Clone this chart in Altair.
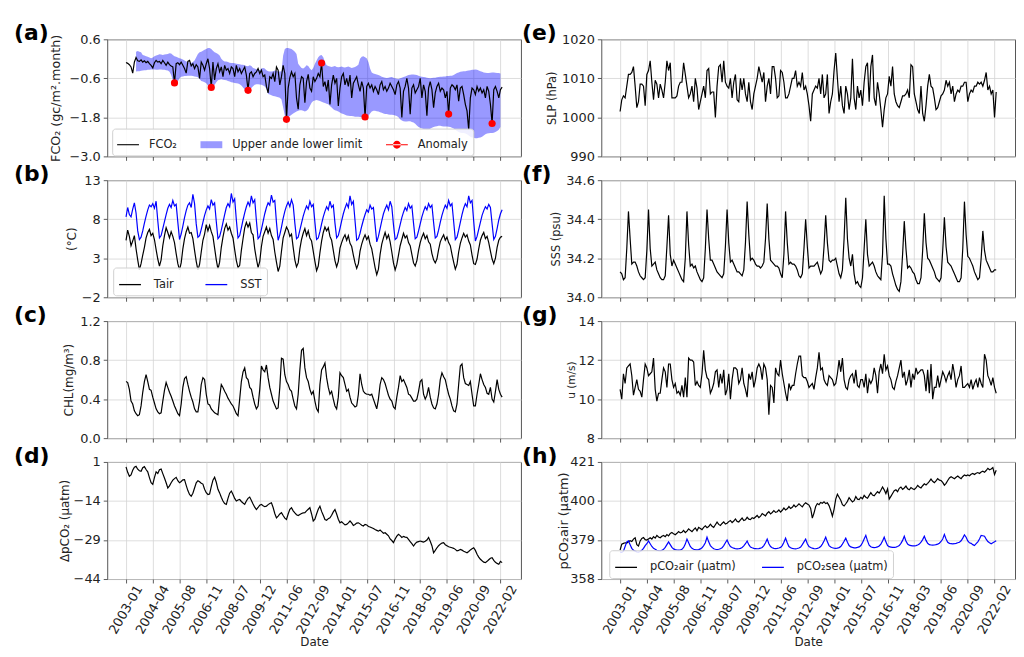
import altair as alt
import pandas as pd

DATE_LABELS = ["2003-01", "2004-04", "2005-08", "2006-11", "2008-07", "2009-12", "2011-06",
               "2012-09", "2014-01", "2015-07", "2016-11", "2018-03", "2019-06", "2020-09", "2022-02"]
TICK_IDX = list(range(0, 225, 16))
X_DOMAIN = [-11.25, 236.25]
PANEL_LABELS = ["(a)", "(b)", "(c)", "(d)", "(e)", "(f)", "(g)", "(h)"]

# (a) FCO2 monthly flux
FCO2 = [
    -0.11, -0.14, -0.18, -0.25, -0.44, -0.10, 0.04, -0.06, -0.08, -0.03, -0.10, -0.06, -0.12, -0.08, -0.15, -0.20,
    -0.28, -0.12, -0.05, -0.10, -0.08, -0.15, -0.05, -0.12, -0.20, -0.10, -0.18, -0.22, -0.25, -0.74, -0.15, -0.12,
    -0.18, -0.10, -0.20, -0.30, -0.44, -0.08, -0.05, -0.22, -0.15, -0.30, -0.18, -0.25, -0.60, -0.10, -0.20, -0.35,
    -0.15, 0.00, -0.30, -0.88, -0.10, -0.65, -0.30, -0.15, -0.40, -0.25, -0.55, -0.20, -0.35, -0.30, -0.45, -0.25,
    -0.30, -0.55, -0.20, -0.40, -0.30, -0.45, -0.35, -0.25, -0.50, -0.97, -0.45, -0.40, -0.55, -0.45, -0.40, -0.30,
    -0.45, -0.35, -0.55, -0.50, -0.85, -1.05, -0.55, -0.60, -0.45, -0.70, -0.25, -0.35, -0.80, -0.55, -0.20, -0.45,
    -1.86, -0.90, -0.58, -0.40, -0.55, -0.45, -1.20, -1.55, -0.80, -0.55, -0.60, -1.35, -0.70, -0.48, -0.90, -1.00,
    -0.55, -0.70, -0.60, -0.45, -0.55, -0.13, -0.85, -0.70, -1.00, -0.65, -1.40, -0.80, -0.50, -0.75, -0.60, -1.45,
    -0.90, -0.55, -0.45, -0.80, -0.60, -0.85, -0.50, -1.20, -0.75, -0.65, -0.55, -0.80, -1.00, -0.70, -0.90, -1.79,
    -0.85, -0.75, -0.90, -0.80, -1.00, -0.85, -0.95, -1.10, -0.80, -0.70, -0.95, -0.85, -1.00, -0.90, -0.75, -0.85,
    -0.95, -1.10, -0.80, -0.70, -0.90, -1.80, -1.00, -0.85, -0.60, -0.90, -1.70, -0.90, -0.80, -1.05, -0.95, -0.85,
    -0.60, -1.20, -0.80, -1.00, -1.75, -0.90, -0.70, -0.95, -1.50, -1.05, -0.85, -0.75, -1.00, -0.90, -0.95, -1.20,
    -1.00, -1.70, -0.90, -0.80, -0.85, -0.95, -0.80, -1.30, -0.90, -0.85, -1.10, -1.40, -1.60, -2.18, -1.20, -0.90,
    -0.95, -1.10, -0.85, -1.00, -0.90, -1.05, -0.95, -1.20, -0.85, -1.00, -1.40, -1.99, -0.95, -0.85, -1.00, -1.20,
    -0.95, -0.87,
]
ANOM_IDX = [29, 51, 73, 96, 117, 143, 193, 219]
BAND_START = 6
BAND_UPPER = [
    0.22, 0.24, 0.22, 0.20, 0.12, 0.10, 0.08, 0.06, 0.04, 0.02,
    0.04, 0.08, 0.10, 0.12, 0.14, 0.13, 0.12, 0.13, 0.14, 0.15, 0.17, 0.16, 0.12, 0.08, 0.06, 0.04,
    0.02, 0.00, -0.02, -0.05, -0.08, -0.10, -0.12, -0.13, -0.10, -0.05, 0.05, 0.15, 0.20, 0.22, 0.25, 0.28,
    0.30, 0.33, 0.33, 0.30, 0.25, 0.20, 0.18, 0.15, 0.10, 0.00, -0.05, -0.08, -0.08, -0.10, -0.12, -0.13,
    -0.13, -0.14, -0.15, -0.16, -0.17, -0.18, -0.18, -0.20, -0.22, -0.23, -0.20, -0.22, -0.28, -0.30, -0.32, -0.33,
    -0.35, -0.30, -0.28, -0.30, -0.35, -0.38, -0.39, -0.39, -0.38, -0.36, -0.37, -0.39, -0.39, -0.38, 0.10, 0.30,
    0.33, 0.33, 0.32, 0.30, 0.26, 0.22, 0.15, -0.15, -0.22, -0.28, -0.30, -0.26, -0.20, -0.22, -0.30, -0.35,
    -0.28, -0.15, -0.05, 0.05, 0.10, 0.12, 0.05, -0.10, -0.20, -0.22, -0.24, -0.25, -0.24, -0.22, -0.25, -0.26,
    -0.25, -0.24, -0.26, -0.27, -0.25, -0.24, -0.26, -0.28, -0.27, -0.25, -0.22, -0.18, 0.00, 0.06, 0.08, 0.05,
    0.02, -0.10, -0.30, -0.42, -0.45, -0.47, -0.48, -0.50, -0.52, -0.55, -0.57, -0.58, -0.59, -0.58, -0.57, -0.56,
    -0.58, -0.60, -0.61, -0.62, -0.60, -0.58, -0.56, -0.54, -0.52, -0.50, -0.49, -0.48, -0.48, -0.49, -0.50, -0.52,
    -0.54, -0.55, -0.56, -0.57, -0.58, -0.59, -0.60, -0.59, -0.58, -0.58, -0.57, -0.56, -0.55, -0.55, -0.54, -0.54,
    -0.53, -0.53, -0.52, -0.52, -0.50, -0.47, -0.44, -0.42, -0.40, -0.39, -0.38, -0.38, -0.37, -0.36, -0.35, -0.34,
    -0.34, -0.33, -0.34, -0.36, -0.38, -0.40, -0.42, -0.43, -0.44, -0.44, -0.43, -0.42, -0.42, -0.43, -0.44, -0.44,
    -0.45,
]
BAND_LOWER = [
    -0.39, -0.38, -0.38, -0.37, -0.36, -0.35, -0.35, -0.34, -0.34, -0.33,
    -0.33, -0.33, -0.34, -0.34, -0.33, -0.33, -0.34, -0.34, -0.35, -0.36, -0.40, -0.50, -0.65, -0.76, -0.74, -0.70,
    -0.60, -0.55, -0.54, -0.53, -0.53, -0.52, -0.52, -0.52, -0.53, -0.54, -0.55, -0.57, -0.62, -0.68, -0.70, -0.72,
    -0.75, -0.82, -0.86, -0.90, -0.86, -0.80, -0.72, -0.66, -0.64, -0.63, -0.64, -0.65, -0.66, -0.68, -0.70, -0.72,
    -0.73, -0.74, -0.75, -0.76, -0.78, -0.82, -0.88, -0.94, -0.98, -1.00, -0.96, -0.90, -0.84, -0.80, -0.78, -0.78,
    -0.79, -0.80, -0.82, -0.85, -0.92, -1.08, -1.10, -1.12, -1.14, -1.15, -1.17, -1.18, -1.20, -1.25, -1.50, -1.75,
    -1.88, -1.80, -1.76, -1.72, -1.68, -1.65, -1.62, -1.60, -1.58, -1.58, -1.60, -1.62, -1.60, -1.55, -1.45, -1.35,
    -1.30, -1.28, -1.27, -1.28, -1.30, -1.32, -1.34, -1.36, -1.38, -1.40, -1.45, -1.50, -1.55, -1.58, -1.60, -1.62,
    -1.65, -1.68, -1.70, -1.72, -1.74, -1.75, -1.76, -1.76, -1.77, -1.78, -1.78, -1.78, -1.79, -1.80, -1.82, -1.84,
    -1.82, -1.75, -1.68, -1.62, -1.60, -1.60, -1.61, -1.62, -1.64, -1.66, -1.68, -1.70, -1.70, -1.71, -1.72, -1.72,
    -1.73, -1.74, -1.76, -1.80, -1.86, -1.90, -1.92, -1.93, -1.93, -1.92, -1.92, -1.94, -1.96, -2.00, -2.05, -2.10,
    -2.12, -2.14, -2.16, -2.17, -2.18, -2.17, -2.15, -2.12, -2.10, -2.08, -2.07, -2.06, -2.06, -2.07, -2.08, -2.08,
    -2.08, -2.09, -2.10, -2.12, -2.14, -2.18, -2.22, -2.25, -2.27, -2.28, -2.28, -2.30, -2.32, -2.36, -2.40, -2.42,
    -2.43, -2.44, -2.44, -2.43, -2.42, -2.40, -2.36, -2.32, -2.30, -2.29, -2.28, -2.28, -2.27, -2.25, -2.22, -2.18,
    -2.10,
]

# (b) air temperature and SST
TAIR = [
    5.3, 6.6, 5.8, 4.6, 5.2, 5.9, 4.2, 2.8,
    1.5, 2.3, 3.4, 4.4, 5.6, 6.3, 6.7, 5.9, 6.2, 5.4, 4.1, 2.9,
    2.0, 2.8, 4.6, 5.9, 6.9, 6.3, 5.6, 6.4, 5.8, 5.0, 3.6, 2.3,
    1.5, 2.4, 4.2, 5.5, 6.4, 7.0, 6.2, 6.3, 5.5, 4.0, 2.6,
    1.5, 2.2, 3.8, 5.3, 6.1, 7.3, 6.5, 7.2, 6.4, 5.8, 4.3, 2.8,
    1.6, 2.5, 4.4, 5.7, 6.8, 7.4, 6.6, 7.0, 6.2, 5.6, 4.1, 2.7,
    1.8, 2.1, 4.0, 5.5, 6.9, 7.6, 7.0, 7.5, 6.3, 6.0, 4.2, 2.9,
    1.8, 2.6, 4.5, 5.8, 6.4, 7.0, 6.2, 6.8, 5.9, 5.4, 3.8, 2.5,
    1.3, 2.0, 3.9, 5.6, 6.3, 7.0, 6.6, 5.8, 6.1, 4.4, 2.8,
    1.9, 2.4, 4.2, 5.4, 6.2, 6.8, 5.9, 6.5, 5.6, 5.2, 3.9, 2.6,
    1.4, 2.0, 3.7, 5.2, 6.3, 7.0, 6.5, 6.9, 5.8, 5.3, 4.0, 2.7,
    1.9, 2.6, 4.3, 5.0, 5.6, 6.0, 5.3, 5.9, 4.9, 4.5, 3.4, 2.4,
    1.7, 2.3, 3.9, 4.8, 5.5, 6.0, 5.4, 5.8, 4.8, 4.2, 3.0, 1.8,
    0.9, 1.6, 3.5, 4.8, 5.6, 6.3, 5.5, 6.0, 5.1, 3.8, 2.4,
    1.5, 2.2, 3.4, 4.6, 5.4, 6.2, 5.6, 5.9, 5.0, 4.6, 3.5, 2.4,
    2.0, 2.7, 4.0, 5.0, 5.7, 6.2, 5.5, 5.9, 5.1, 4.8, 3.6, 2.8,
    2.4, 2.9, 4.1, 5.1, 5.6, 6.0, 5.3, 5.7, 5.0, 4.6, 3.5, 2.5,
    1.6, 2.2, 3.8, 4.9, 5.6, 6.2, 5.7, 6.0, 5.2, 4.7, 3.4, 2.3,
    2.2, 2.9, 4.2, 5.3, 5.9, 6.3, 5.5, 5.8, 5.0, 3.9, 2.9,
    2.3, 3.0, 4.4, 5.3, 5.7, 5.8,
]
SST = [
    8.3, 9.5, 8.6, 8.3, 9.3, 10.1, 8.8, 6.5,
    5.4, 5.7, 6.5, 7.5, 8.4, 9.2, 9.8, 9.6, 10.0, 9.4, 10.3, 7.8,
    5.6, 5.9, 6.8, 7.7, 8.6, 9.4, 9.9, 9.5, 10.4, 9.7, 9.9, 7.6,
    5.4, 6.1, 7.1, 8.2, 9.1, 9.8, 10.1, 9.5, 11.2, 10.0, 7.4,
    5.7, 5.9, 6.7, 7.6, 8.5, 9.2, 9.7, 9.3, 10.5, 9.8, 10.1, 7.7,
    5.5, 5.8, 6.6, 7.6, 8.6, 9.5, 10.0, 9.6, 11.3, 10.2, 10.6, 7.9,
    5.6, 5.9, 6.9, 7.9, 8.8, 9.6, 10.2, 9.7, 11.0, 10.1, 10.5, 7.8,
    5.5, 5.8, 6.7, 7.7, 8.7, 9.5, 10.1, 9.8, 11.1, 10.2, 10.4, 7.6,
    5.3, 6.0, 7.0, 8.1, 9.0, 9.7, 10.2, 9.6, 10.5, 9.8, 7.5,
    5.5, 5.7, 6.6, 7.5, 8.4, 9.1, 9.7, 9.3, 10.3, 9.6, 9.9, 7.6,
    5.4, 5.6, 6.4, 7.4, 8.3, 9.0, 9.6, 9.2, 10.3, 9.5, 9.8, 7.5,
    5.6, 5.9, 6.8, 7.8, 8.7, 9.4, 10.0, 9.5, 11.0, 9.9, 10.3, 7.8,
    5.3, 5.5, 6.2, 7.1, 7.9, 8.6, 9.2, 8.9, 9.8, 9.3, 9.5, 7.3,
    5.1, 5.8, 6.8, 7.8, 8.7, 9.3, 9.8, 9.2, 10.3, 9.6, 7.3,
    5.4, 5.6, 6.4, 7.3, 8.2, 8.9, 9.5, 9.1, 10.0, 9.4, 9.7, 7.5,
    5.5, 5.7, 6.5, 7.4, 8.3, 9.0, 9.6, 9.2, 10.0, 9.5, 9.8, 7.6,
    5.6, 5.8, 6.6, 7.6, 8.5, 9.2, 9.8, 9.4, 10.4, 9.7, 10.0, 7.7,
    5.4, 5.7, 6.6, 7.6, 8.6, 9.4, 10.0, 9.6, 11.0, 10.1, 10.4, 7.7,
    5.2, 5.8, 6.7, 7.6, 8.5, 9.1, 9.6, 9.3, 9.9, 9.5, 7.4,
    5.4, 5.8, 6.8, 7.9, 8.7, 9.2,
]

# (c) chlorophyll
CHL = [
    0.58, 0.57, 0.50, 0.38, 0.35, 0.28, 0.25, 0.23,
    0.24, 0.33, 0.47, 0.58, 0.65, 0.58, 0.50, 0.49, 0.42, 0.36, 0.30, 0.27,
    0.25, 0.26, 0.38, 0.49, 0.57, 0.52, 0.47, 0.43, 0.38, 0.33, 0.29, 0.25,
    0.23, 0.35, 0.52, 0.61, 0.63, 0.55, 0.48, 0.42, 0.37, 0.30, 0.27,
    0.27, 0.38, 0.55, 0.62, 0.60, 0.45, 0.35, 0.34, 0.30, 0.28, 0.26, 0.25,
    0.24, 0.42, 0.55, 0.52, 0.48, 0.45, 0.41, 0.38, 0.35, 0.33, 0.29, 0.25,
    0.23, 0.40, 0.58, 0.68, 0.72, 0.62, 0.60, 0.52, 0.50, 0.42, 0.35, 0.30,
    0.33, 0.50, 0.74, 0.70, 0.68, 0.75, 0.62, 0.52, 0.45, 0.38, 0.34, 0.30,
    0.31, 0.52, 0.82, 0.81, 0.65, 0.58, 0.55, 0.50, 0.48, 0.40, 0.33,
    0.30, 0.45, 0.70, 0.90, 0.92, 0.72, 0.62, 0.58, 0.50, 0.45, 0.48, 0.38,
    0.30, 0.27, 0.55, 0.70, 0.73, 0.77, 0.62, 0.52, 0.45, 0.48, 0.40, 0.33,
    0.30, 0.42, 0.67, 0.64, 0.62, 0.55, 0.48, 0.50, 0.42, 0.36, 0.34, 0.32,
    0.33, 0.45, 0.66, 0.55, 0.48, 0.46, 0.45, 0.45, 0.44, 0.45, 0.40, 0.35,
    0.30, 0.40, 0.55, 0.62, 0.60, 0.56, 0.50, 0.44, 0.40, 0.38, 0.32,
    0.30, 0.42, 0.52, 0.64, 0.58, 0.60, 0.56, 0.52, 0.45, 0.44, 0.41, 0.38,
    0.38, 0.40, 0.48, 0.58, 0.60, 0.45, 0.40, 0.44, 0.52, 0.42, 0.35, 0.31,
    0.30, 0.35, 0.45, 0.60, 0.67, 0.63, 0.60, 0.52, 0.45, 0.40, 0.33, 0.28,
    0.27, 0.35, 0.55, 0.74, 0.76, 0.62, 0.56, 0.55, 0.54, 0.58, 0.45, 0.33,
    0.33, 0.45, 0.55, 0.66, 0.60, 0.55, 0.52, 0.46, 0.45, 0.52, 0.40,
    0.37, 0.48, 0.60, 0.50, 0.45, 0.42,
]

# (d) delta pCO2
DPCO2 = [
    -0.9, -3.0, -4.5, -4.0, -2.2, -1.0, -0.7, -1.8, -2.4, -2.6, -1.2, -0.8, -1.9, -2.8, -5.0, -7.0,
    -7.6, -5.0, -2.8, -3.4, -2.0, -1.7, -3.5, -5.2, -7.0, -9.0, -8.2, -7.0, -6.0, -5.4, -4.9, -6.2,
    -7.0, -6.5, -5.9, -5.8, -8.0, -10.0, -11.5, -12.2, -11.0, -9.0, -7.0, -6.2, -6.6, -7.2, -7.5, -9.5,
    -10.8, -11.5, -11.3, -8.5, -6.0, -4.9, -6.8, -9.5, -10.9, -12.6, -14.0, -15.0, -15.3, -13.0, -11.0, -10.2,
    -11.5, -13.0, -14.0, -13.6, -13.4, -14.2, -14.8, -15.3, -14.0, -13.0, -12.5, -13.8, -15.2, -16.4, -17.3, -16.5,
    -15.6, -15.3, -15.8, -16.2, -16.0, -15.4, -15.0, -14.7, -16.5, -18.8, -20.5, -19.8, -19.0, -18.5, -19.6, -20.6,
    -21.1, -19.0, -17.2, -16.6, -17.8, -18.6, -19.3, -19.6, -19.2, -18.8, -18.6, -18.5, -17.8, -17.2, -16.6, -19.0,
    -21.7, -21.0, -19.0, -17.2, -16.0, -18.0, -19.5, -21.1, -21.4, -20.8, -20.5, -19.5, -18.2, -17.3, -19.0, -21.0,
    -22.4, -22.0, -22.6, -23.2, -23.0, -22.4, -21.7, -22.4, -23.4, -23.0, -22.5, -22.4, -22.8, -23.3, -23.6, -23.0,
    -23.2, -23.8, -24.0, -24.3, -24.6, -25.0, -25.3, -25.6, -25.2, -25.8, -26.4, -26.2, -26.8, -27.4, -28.6, -29.2,
    -30.0, -28.6, -27.5, -26.8, -27.3, -28.0, -27.6, -27.9, -28.0, -28.8, -29.6, -30.4, -31.3, -30.4, -29.8, -29.6,
    -29.4, -29.6, -29.8, -29.5, -29.0, -28.0, -29.5, -31.2, -33.9, -33.0, -32.0, -31.2, -30.6, -30.2, -30.0, -30.8,
    -31.2, -31.6, -31.8, -32.0, -32.2, -32.6, -33.2, -33.0, -32.6, -32.9, -33.3, -33.6, -33.9, -33.4, -32.8, -32.4,
    -32.0, -33.0, -34.5, -35.6, -36.4, -37.0, -37.5, -37.7, -37.2, -36.6, -36.0, -35.8, -36.8, -37.6, -38.0, -38.3,
    -37.2, -37.7,
]

# (e) sea level pressure
SLP = [
    1001.5, 1004.5, 1005.5, 1005.0, 1008.0, 1011.0, 1011.0, 1011.5, 1013.0, 1008.0, 1002.5, 1004.0, 1008.5, 1008.5, 1008.0, 1003.0,
    1011.0, 1012.0, 1014.5, 1009.0, 1004.5, 1009.5, 1008.5, 1005.0, 1008.5, 1007.0, 1005.0, 1009.0, 1014.5, 1012.0, 1014.0, 1005.0,
    1005.0, 1005.0, 1005.5, 1008.0, 1009.0, 1009.0, 1014.0, 1011.0, 1008.0, 1005.0, 1006.0, 1008.0, 1004.0, 1010.0, 1007.5, 1002.0,
    1004.0, 1006.0, 1008.0, 1005.0, 1012.0, 1012.5, 1006.0, 1006.5, 1006.5, 1000.0, 1008.0, 1013.0, 1013.5, 1009.0, 1014.5, 1009.0,
    1008.0, 1007.5, 1010.0, 1005.0, 1009.0, 1011.0, 1004.5, 1004.0, 1010.0, 1007.0, 1010.0, 1006.0, 1004.0, 1009.0, 1004.0, 1002.0,
    1006.0, 1008.0, 1010.0, 1013.0, 1011.0, 1009.0, 1011.5, 1004.0, 1008.0, 1010.0, 1006.0, 1013.0, 1013.0, 1010.0, 1005.0, 1005.5,
    1012.0, 1011.5, 1009.0, 1005.0, 1005.0, 1006.0, 1008.0, 1010.0, 1010.0, 1012.0, 1008.0, 1009.0, 1008.0, 1011.5, 1007.0, 1008.0,
    1006.0, 1003.0, 999.0, 1006.0, 1007.0, 1008.0, 1007.5, 1010.0, 1006.0, 1011.0, 1005.0, 1006.0, 1011.0, 1001.0, 1004.0, 1006.0,
    1012.0, 1016.5, 1010.0, 1004.0, 1008.0, 1003.0, 1001.0, 1008.0, 1006.0, 1002.0, 1005.0, 1015.0, 1005.0, 1002.0, 1008.0, 1005.0,
    1007.0, 1003.0, 1009.0, 1013.0, 1014.0, 1004.0, 1013.0, 1016.0, 1005.0, 1003.0, 1009.0, 1006.0, 1002.0, 997.5, 1002.0, 1005.0,
    1006.0, 1010.5, 1008.0, 1013.0, 1006.0, 1004.0, 1003.0, 1002.5, 1004.0, 1005.5, 1005.5, 1006.0, 1007.0, 1005.0, 1013.5, 1013.0,
    1006.0, 1004.0, 1002.0, 1001.0, 1008.0, 1001.0, 999.0, 1003.0, 1008.0, 1011.0, 1008.0, 1007.5, 1005.0, 1002.0, 1002.5, 1004.0,
    1005.5, 1006.0, 1007.0, 1009.5, 1008.0, 1009.0, 1006.0, 1008.0, 1004.0, 1006.0, 1007.0, 1006.5, 1008.0, 1008.0, 1009.0, 1009.0,
    1004.0, 1006.0, 1007.0, 1006.5, 1008.0, 1008.0, 1009.0, 1008.5, 1009.0, 1008.0, 1009.5, 1011.5, 1007.0, 1008.0, 1006.0, 1007.0,
    1000.0, 1006.5,
]

# (f) sea surface salinity
SSS = [
    34.13, 34.12, 34.09, 34.10, 34.25,
    34.44, 34.30, 34.17, 34.18, 34.18, 34.16, 34.13, 34.11, 34.10, 34.09, 34.10, 34.24,
    34.45, 34.25, 34.16, 34.17, 34.18, 34.14, 34.12, 34.10, 34.09, 34.09, 34.11, 34.26,
    34.42, 34.22, 34.16, 34.19, 34.17, 34.15, 34.13, 34.11, 34.09, 34.08, 34.20,
    34.44, 34.27, 34.16, 34.17, 34.15, 34.16, 34.13, 34.11, 34.09, 34.08, 34.10, 34.25,
    34.45, 34.30, 34.19, 34.19, 34.17, 34.15, 34.13, 34.12, 34.11, 34.10, 34.12, 34.26,
    34.45, 34.28, 34.18, 34.19, 34.17, 34.15, 34.13, 34.13, 34.12, 34.11, 34.14, 34.28,
    34.49, 34.32, 34.19, 34.20, 34.19, 34.17, 34.16, 34.16, 34.15, 34.16, 34.18, 34.30,
    34.48, 34.30, 34.19, 34.18, 34.17, 34.16, 34.16, 34.15, 34.12, 34.10, 34.22,
    34.44, 34.28, 34.17, 34.18, 34.17, 34.17, 34.16, 34.14, 34.11, 34.10, 34.12, 34.25,
    34.40, 34.26, 34.15, 34.16, 34.16, 34.16, 34.17, 34.18, 34.15, 34.12, 34.14, 34.26,
    34.42, 34.28, 34.19, 34.18, 34.19, 34.19, 34.20, 34.16, 34.12, 34.10, 34.14, 34.30,
    34.51, 34.30, 34.20, 34.16, 34.22, 34.12, 34.07, 34.08, 34.06, 34.05, 34.10, 34.25,
    34.40, 34.22, 34.16, 34.17, 34.18, 34.16, 34.13, 34.11, 34.10, 34.09, 34.22,
    34.52, 34.30, 34.17, 34.17, 34.16, 34.12, 34.09, 34.06, 34.04, 34.03, 34.08, 34.22,
    34.39, 34.25, 34.15, 34.16, 34.15, 34.13, 34.12, 34.09, 34.07, 34.07, 34.10, 34.24,
    34.43, 34.28, 34.20, 34.19, 34.17, 34.15, 34.13, 34.10, 34.09, 34.08, 34.10, 34.24,
    34.41, 34.26, 34.18, 34.17, 34.16, 34.14, 34.12, 34.10, 34.08, 34.08, 34.10, 34.25,
    34.49, 34.32, 34.21, 34.20, 34.18, 34.16, 34.13, 34.11, 34.09, 34.10, 34.20,
    34.34, 34.24, 34.19, 34.17, 34.15, 34.13, 34.13, 34.14, 34.14,
]

# (g) wind speed
WIND = [
    10.5, 10.0, 11.3, 10.8, 11.6, 11.7, 11.8, 11.2, 10.2, 10.6, 11.0, 10.5, 10.4, 10.1, 11.0, 11.8,
    11.6, 11.2, 11.3, 11.4, 12.1, 10.5, 9.9, 10.3, 10.3, 11.0, 11.6, 11.4, 10.6, 11.8, 11.8, 11.0,
    10.6, 10.8, 10.3, 10.4, 10.2, 10.7, 10.1, 11.1, 10.1, 12.1, 12.0, 12.0, 11.9, 10.7, 10.9, 10.7,
    10.6, 11.3, 12.5, 11.5, 11.1, 11.0, 10.3, 10.5, 10.8, 11.4, 11.5, 10.6, 11.3, 10.8, 11.5, 10.2,
    10.5, 11.3, 10.0, 11.0, 11.6, 11.6, 11.5, 10.8, 11.0, 11.6, 10.8, 10.5, 10.1, 11.3, 11.0, 11.4,
    10.6, 11.0, 11.6, 11.8, 11.6, 11.0, 11.8, 11.6, 11.0, 9.2, 10.7, 10.6, 9.8, 11.6, 11.3, 11.2,
    12.0, 11.3, 10.8, 10.3, 9.9, 10.8, 10.5, 10.7, 10.7, 11.3, 11.8, 12.2, 12.2, 11.2, 11.1, 11.1,
    10.9, 10.6, 10.7, 10.8, 10.5, 11.1, 11.6, 12.4, 11.5, 11.6, 11.0, 10.8, 10.7, 11.2, 11.1, 11.0,
    10.7, 10.8, 11.3, 12.0, 11.4, 12.1, 11.0, 10.6, 10.5, 11.0, 11.2, 11.3, 10.8, 11.5, 10.7, 10.6,
    11.0, 11.0, 10.6, 11.3, 10.3, 11.0, 10.8, 11.0, 11.6, 11.2, 10.3, 11.4, 11.8, 11.3, 12.3, 11.5,
    11.7, 11.2, 11.0, 10.6, 10.5, 10.9, 11.2, 11.6, 12.0, 11.1, 11.4, 10.7, 11.0, 11.5, 10.6, 11.3,
    11.0, 11.6, 11.3, 11.4, 11.5, 11.5, 11.2, 10.4, 11.5, 10.3, 11.8, 10.0, 10.6, 10.6, 11.2, 10.6,
    11.0, 11.4, 11.2, 10.9, 11.2, 11.4, 11.0, 11.8, 11.3, 10.6, 11.0, 11.2, 11.7, 10.6, 10.6, 10.7,
    10.8, 10.6, 11.0, 10.5, 10.8, 11.0, 10.6, 11.1, 10.8, 10.6, 12.3, 12.0, 11.2, 11.0, 10.7, 11.1,
    10.6, 10.3,
]

# (h) pCO2 air and sea
PCO2_AIR = [
    373.6, 376.8, 377.2, 377.5, 377.3, 378.0, 378.6, 378.2, 379.5, 380.2, 376.5, 375.8, 378.5, 379.8, 380.3, 379.2,
    379.0, 379.6, 380.2, 379.5, 380.8, 380.0, 381.5, 380.6, 380.2, 381.0, 381.4, 380.8, 381.9, 381.2, 382.5, 383.0,
    382.3, 381.8, 382.6, 383.5, 382.8, 383.2, 384.2, 383.0, 383.8, 385.0, 384.2, 383.5, 384.6, 385.5, 384.0, 385.8,
    385.2, 384.6, 385.8, 386.6, 385.6, 386.2, 387.5, 386.4, 385.8, 387.2, 388.6, 387.4, 386.8, 387.9, 388.8, 387.6,
    388.0, 388.9, 389.5, 388.4, 389.2, 390.3, 389.0, 388.7, 389.8, 390.8, 389.5, 389.9, 391.2, 390.2, 390.0, 391.0,
    390.6, 391.4, 392.2, 391.0, 391.8, 393.2, 392.6, 392.0, 393.4, 394.3, 393.0, 393.8, 394.8, 393.9, 394.2, 395.2,
    394.0, 395.0, 396.2, 395.2, 395.8, 397.0, 396.0, 396.6, 397.8, 396.8, 397.5, 398.5, 397.6, 396.8, 398.2, 399.0,
    398.4, 397.8, 396.0, 390.8, 393.5, 397.0, 398.6, 398.0, 399.2, 398.8, 399.5, 398.6, 399.0, 397.5, 395.0, 391.8,
    395.5, 401.0, 403.6, 402.0, 400.4, 398.0, 397.3, 398.5, 399.8, 401.8, 400.6, 399.5, 400.2, 402.4, 401.0, 400.8,
    402.0, 401.2, 403.0, 402.0, 401.5, 403.0, 404.5, 403.2, 402.8, 404.0, 405.0, 404.2, 405.8, 407.5, 406.0, 404.0,
    406.5, 401.0, 402.5, 404.0, 405.5, 406.0, 405.0, 406.8, 407.5, 406.2, 407.0, 408.0, 406.5, 406.0, 407.2, 406.6,
    406.2, 407.0, 408.4, 407.5, 407.0, 408.2, 409.2, 408.6, 409.5, 410.5, 411.8, 410.6, 409.8, 410.8, 412.0, 411.2,
    411.0, 410.0, 408.5, 409.5, 411.0, 412.4, 413.0, 412.5, 412.0, 412.8, 413.4, 412.6, 412.0, 413.2, 414.0, 413.5,
    414.0, 413.6, 414.4, 414.8, 414.2, 414.9, 415.3, 414.8, 415.6, 416.0, 415.5, 416.4, 417.6, 416.8, 417.2, 418.0,
    414.2, 416.5,
]
PCO2_SEA = [
    372.5, 372.3, 373.0, 375.5, 378.0,
    378.5, 376.5, 374.5, 373.5, 373.0, 372.6, 372.5, 372.8, 373.5, 374.5, 376.0, 377.0,
    378.5, 377.0, 375.5, 374.5, 374.0, 373.5, 373.3, 373.2, 373.4, 374.0, 375.0, 376.5,
    378.0, 376.5, 375.0, 374.2, 373.8, 373.6, 373.5, 373.6, 374.0, 375.0, 376.8,
    379.5, 377.5, 375.5, 374.5, 374.0, 373.8, 373.7, 373.8, 374.2, 374.8, 376.0, 377.5,
    380.5, 378.0, 376.0, 375.0, 374.3, 374.0, 373.8, 374.0, 374.3, 374.8, 376.0, 377.5,
    379.0, 377.0, 375.5, 375.0, 374.6, 374.3, 374.2, 374.3, 374.5, 375.0, 375.8, 377.0,
    378.5, 376.5, 375.2, 374.8, 374.5, 374.4, 374.3, 374.4, 374.6, 375.0, 376.0, 377.5,
    379.5, 377.0, 375.5, 374.8, 374.5, 374.4, 374.5, 374.7, 375.0, 376.0, 377.8,
    380.0, 377.5, 375.5, 374.8, 374.5, 374.3, 374.2, 374.4, 374.7, 375.2, 376.5, 378.0,
    379.5, 377.0, 375.5, 375.0, 374.6, 374.4, 374.3, 374.5, 374.8, 375.5, 376.8, 378.5,
    380.5, 378.0, 376.0, 375.2, 374.8, 374.6, 374.5, 374.6, 374.9, 375.5, 376.8, 378.3,
    380.0, 377.8, 376.0, 375.3, 375.0, 374.8, 374.8, 375.0, 375.3, 376.0, 377.5, 379.5,
    381.5, 378.5, 376.2, 375.4, 375.0, 374.9, 375.0, 375.3, 375.8, 376.8, 378.5,
    380.5, 378.0, 376.0, 375.4, 375.2, 375.0, 375.0, 375.2, 375.5, 376.0, 377.2, 378.8,
    381.0, 378.5, 376.8, 376.2, 376.0, 375.8, 375.8, 376.0, 376.3, 376.8, 377.8, 379.2,
    381.0, 378.8, 377.2, 376.5, 376.3, 376.2, 376.3, 376.5, 376.8, 377.3, 378.2, 379.5,
    382.0, 379.5, 377.8, 377.2, 377.0, 376.9, 377.0, 377.2, 377.5, 377.8, 378.6, 380.0,
    381.8, 380.5, 378.5, 377.5, 377.2, 376.5, 376.0, 377.0, 378.0, 379.5, 381.5,
    381.3, 381.0, 379.5, 378.2, 377.5, 377.0, 377.5, 378.0, 378.6,
]

W, H = 417, 118
FONT = "DejaVu Sans"
LABEL_EXPR = "[" + ",".join("'%s'" % d for d in DATE_LABELS) + "][round(datum.value / 16)]"


def xenc(bottom):
    if bottom:
        ax = alt.Axis(values=TICK_IDX, labelExpr=LABEL_EXPR, labelAngle=-60, labelAlign="right",
                      labelBaseline="middle", labelOffset=13, labelPadding=3, labelFontSize=13,
                      labelOverlap=False, labelBound=False,
                      title="Date", titleFontSize=12, titlePadding=0)
    else:
        ax = alt.Axis(values=TICK_IDX, labels=False, title=None)
    return alt.X("i:Q", scale=alt.Scale(domain=X_DOMAIN, nice=False, zero=False), axis=ax)


def yenc(domain, values, fmt, title, tsize, tx, field="v"):
    return alt.Y(field + ":Q", scale=alt.Scale(domain=domain, nice=False, zero=False),
                 axis=alt.Axis(values=values, format=fmt, title=title, titleFontSize=tsize,
                               titleX=tx, titleY=H / 2, titleAngle=-90, titleBaseline="middle",
                               titleAlign="center", labelOverlap=False))


def plabel(k, dx):
    return alt.Chart(pd.DataFrame({"t": [PANEL_LABELS[k]]})).mark_text(
        align="left", baseline="middle", fontSize=22, fontWeight="bold", font=FONT, color="black"
    ).encode(x=alt.value(dx), y=alt.value(-6), text="t:N")


def legend(x, y, cols, colpad, offset, **kw):
    return alt.Legend(title=None, orient="none", legendX=x, legendY=y, direction="horizontal",
                      columns=cols, columnPadding=colpad, labelOffset=offset, symbolSize=484,
                      labelFontSize=11.5, labelFont=FONT, labelColor="#222",
                      fillColor="rgba(255,255,255,0.85)", strokeColor="#d0d0d0", cornerRadius=3,
                      padding=5, **kw)


def single(values):
    return pd.DataFrame({"i": list(range(len(values))), "v": values})


# ---------- panel a ----------
A_NAMES = ["FCO₂", "Upper ande lower limit", "Anomaly"]
LINE_PATH = "M-1,-0.05H1V0.05H-1Z"
PATCH_PATH = "M-1,-0.32H1V0.32H-1Z"
DOT_PATH = "M-1,-0.045H1V0.045H-1Z M-0.36,0A0.36,0.36 0 1,0 0.36,0A0.36,0.36 0 1,0 -0.36,0Z"
shape_expr = ("datum.value === 'Anomaly' ? '%s' : (datum.value === 'FCO₂' ? '%s' : '%s')"
              % (DOT_PATH, LINE_PATH, PATCH_PATH))
fill_expr = "datum.value === 'Anomaly' ? 'red' : (datum.value === 'FCO₂' ? 'black' : 'blue')"
opac_expr = "datum.value === 'Upper ande lower limit' ? 0.4 : 1"
color_a = alt.Color("s:N", scale=alt.Scale(domain=A_NAMES, range=["black", "blue", "red"]),
                    legend=legend(5, 90, 3, 23, 10,
                                  symbolType=alt.ExprRef(shape_expr),
                                  symbolFillColor=alt.ExprRef(fill_expr),
                                  symbolOpacity=alt.ExprRef(opac_expr),
                                  symbolStrokeWidth=0))

df_line_a = pd.DataFrame({"i": list(range(len(FCO2))), "v": FCO2, "s": A_NAMES[0]})
df_band = pd.DataFrame({"i": [BAND_START + k for k in range(len(BAND_UPPER))],
                        "lo": BAND_LOWER, "hi": BAND_UPPER, "s": A_NAMES[1]})
df_anom = pd.DataFrame({"i": ANOM_IDX, "v": [FCO2[k] for k in ANOM_IDX], "s": A_NAMES[2]})

ya = yenc([-3.0, 0.6], [0.6, -0.6, -1.8, -3.0], ".1f", "FCO₂ (gc/m².month)", 12.8, -52)
ya_band = yenc([-3.0, 0.6], [0.6, -0.6, -1.8, -3.0], ".1f", "FCO₂ (gc/m².month)", 12.8, -52, field="lo")
band = alt.Chart(df_band).mark_area(opacity=0.4).encode(
    x=xenc(False), y=ya_band, y2="hi:Q", color=color_a)
line_a = alt.Chart(df_line_a).mark_line(strokeWidth=1.2).encode(x=xenc(False), y=ya, color=color_a)
pts_a = alt.Chart(df_anom).mark_circle(size=52, opacity=1).encode(x=xenc(False), y=ya, color=color_a)
pa = alt.layer(band, line_a, pts_a, plabel(0, -94)).properties(width=W, height=H)

# ---------- panel b ----------
df_b = pd.concat([
    pd.DataFrame({"i": list(range(len(TAIR))), "v": TAIR, "s": "Tair"}),
    pd.DataFrame({"i": list(range(len(SST))), "v": SST, "s": "SST"}),
])
lb = alt.Chart(df_b).mark_line(strokeWidth=1.2).encode(
    x=xenc(False),
    y=yenc([-2, 13], [13, 8, 3, -2], "d", "(°C)", 12, -36),
    color=alt.Color("s:N", scale=alt.Scale(domain=["Tair", "SST"], range=["black", "blue"]),
                    legend=legend(6, 88, 2, 28, 12, symbolType="stroke", symbolStrokeWidth=1.3)),
)
pb = alt.layer(lb, plabel(1, -94)).properties(width=W, height=H)

# ---------- panel c ----------
lc = alt.Chart(single(CHL)).mark_line(strokeWidth=1.2, color="black").encode(
    x=xenc(False), y=yenc([0.0, 1.2], [1.2, 0.8, 0.4, 0.0], ".1f", "CHL(mg/m³)", 12, -39))
pc = alt.layer(lc, plabel(2, -94)).properties(width=W, height=H)

# ---------- panel d ----------
ld = alt.Chart(single(DPCO2)).mark_line(strokeWidth=1.2, color="black").encode(
    x=xenc(True), y=yenc([-44, 1], [1, -14, -29, -44], "d", "ΔpCO₂ (µatm)", 12, -43.5))
pdd = alt.layer(ld, plabel(3, -94)).properties(width=W, height=H)

# ---------- panel e ----------
le = alt.Chart(single(SLP)).mark_line(strokeWidth=1.2, color="black").encode(
    x=xenc(False), y=yenc([990, 1020], [1020, 1010, 1000, 990], "d", "SLP (hPa)", 11.5, -49))
pe = alt.layer(le, plabel(4, -80)).properties(width=W, height=H)

# ---------- panel f ----------
lf = alt.Chart(single(SSS)).mark_line(strokeWidth=1.2, color="black").encode(
    x=xenc(False), y=yenc([34.0, 34.6], [34.6, 34.4, 34.2, 34.0], ".1f", "SSS (psu)", 11.5, -45))
pf = alt.layer(lf, plabel(5, -80)).properties(width=W, height=H)

# ---------- panel g ----------
lg = alt.Chart(single(WIND)).mark_line(strokeWidth=1.2, color="black").encode(
    x=xenc(False), y=yenc([8, 14], [14, 12, 10, 8], "d", "u (m/s)", 10.5, -30))
pg = alt.layer(lg, plabel(6, -80)).properties(width=W, height=H)

# ---------- panel h ----------
H_NAMES = ["pCO₂air (µatm)", "pCO₂sea (µatm)"]
df_h = pd.concat([
    pd.DataFrame({"i": list(range(len(PCO2_AIR))), "v": PCO2_AIR, "s": H_NAMES[0]}),
    pd.DataFrame({"i": list(range(len(PCO2_SEA))), "v": PCO2_SEA, "s": H_NAMES[1]}),
])
lh = alt.Chart(df_h).mark_line(strokeWidth=1.2).encode(
    x=xenc(True),
    y=yenc([358, 421], [421, 400, 379, 358], "d", "pCO₂air (µatm)", 13, -38),
    color=alt.Color("s:N", scale=alt.Scale(domain=H_NAMES, range=["black", "blue"]),
                    legend=legend(8, 89, 2, 23, 12, symbolType="stroke", symbolStrokeWidth=1.3)),
)
ph = alt.layer(lh, plabel(7, -80)).properties(width=W, height=H)

chart = alt.concat(
    pa, pe, pb, pf, pc, pg, pdd, ph,
    columns=2, spacing={"row": 24, "column": 81}, bounds="flush"
).resolve_scale(
    x="independent", y="independent", color="independent"
).properties(
    padding={"left": 5, "top": 11, "right": 0, "bottom": 0}
).configure_view(
    stroke="#555", strokeWidth=1
).configure_axis(
    grid=True, gridColor="#d4d4d4", gridWidth=0.8, domain=False, tickColor="#333", tickSize=4,
    tickWidth=0.8, labelFont=FONT, labelFontSize=13, labelColor="#222", labelPadding=3,
    titleFont=FONT, titleFontWeight="normal", titleColor="#222"
)

chart.save("out.html", embed_options={"renderer": "svg", "actions": False})
